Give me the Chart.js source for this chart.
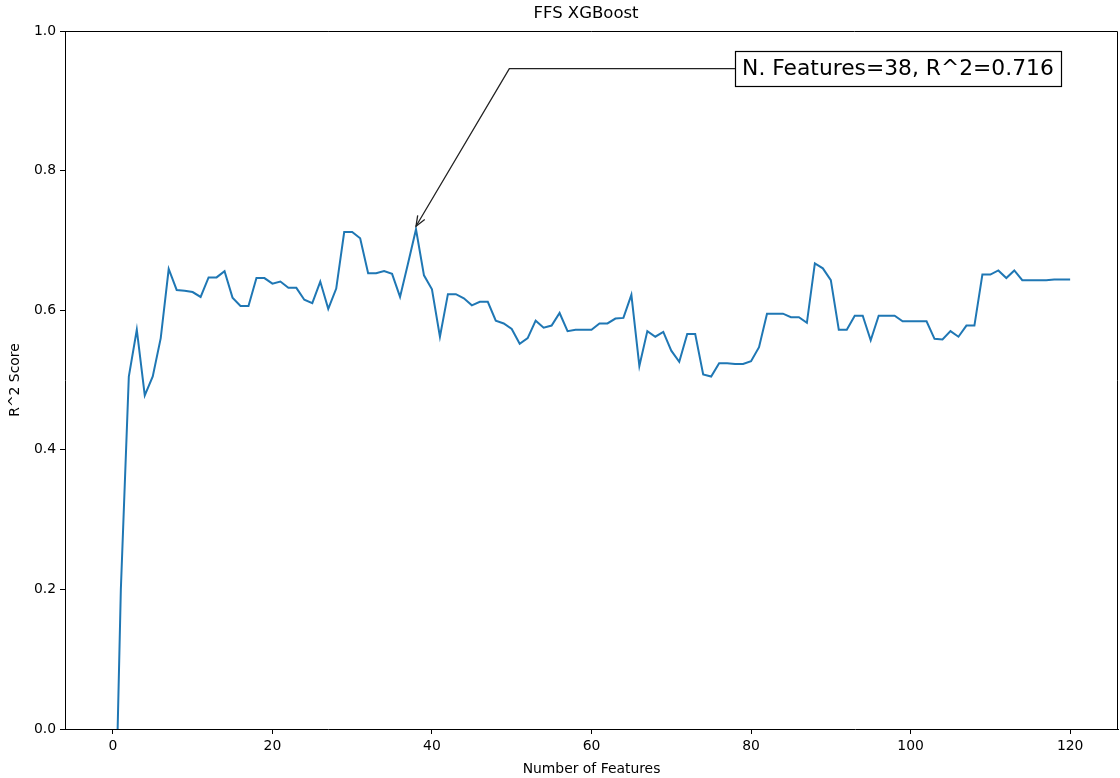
<!DOCTYPE html>
<html lang="en">
<head>
    <meta charset="UTF-8">
    <title>FFS XGBoost</title>
    <script src="https://cdn.jsdelivr.net/npm/chart.js"></script>
    <style>
        body {
            margin: 0;
            background: #ffffff;
        }
        .chart-box {
            width: 1120px;
            height: 778px;
        }
    </style>
</head>
<body>
<div class="chart-box">
    <canvas id="ffsChart" width="1120" height="778"></canvas>
</div>

<script>
    // number of features (0..120) and the R^2
    const nFeatures = Array.from({ length: 121 }, (_, i) => i);
    const r2Scores = [
        -0.30, 0.20, 0.505, 0.572, 0.478, 0.505, 0.56, 0.659, 0.629, 0.628,
        0.626, 0.619, 0.647, 0.647, 0.656, 0.618, 0.606, 0.606, 0.646, 0.646,
        0.638, 0.641, 0.632, 0.632, 0.615, 0.610, 0.641, 0.602, 0.631, 0.712,
        0.712, 0.703, 0.653, 0.653, 0.656, 0.652, 0.619, 0.667, 0.716, 0.650,
        0.630, 0.562, 0.623, 0.623, 0.617, 0.607, 0.612, 0.612, 0.585, 0.581,
        0.573, 0.552, 0.560, 0.585, 0.575, 0.578, 0.596, 0.570, 0.572, 0.572,
        0.572, 0.581, 0.581, 0.588, 0.589, 0.622, 0.520, 0.570, 0.562, 0.569,
        0.542, 0.526, 0.566, 0.566, 0.508, 0.505, 0.524, 0.524, 0.523, 0.523,
        0.527, 0.547, 0.595, 0.595, 0.595, 0.590, 0.590, 0.582, 0.667, 0.660,
        0.643, 0.572, 0.572, 0.592, 0.592, 0.557, 0.592, 0.592, 0.592, 0.584,
        0.584, 0.584, 0.584, 0.559, 0.558, 0.570, 0.562, 0.578, 0.578, 0.651,
        0.651, 0.657, 0.646, 0.657, 0.643, 0.643, 0.643, 0.643, 0.644, 0.644,
        0.644
    ];
    const xTicks = [0, 20, 40, 60, 80, 100, 120];
    const yTicks = [0.0, 0.2, 0.4, 0.6, 0.8, 1.0];

    const bestN = 38;
    const bestR2 = 0.716;
    const annotLabel = 'N. Features=' + bestN + ', R^2=' + bestR2;

    const FONT = '"DejaVu Sans", sans-serif';

    // titles, frame and the annotation arrow (matplotlib style)
    const decorPlugin = {
        id: 'decor',
        afterDraw(chart) {
            const ctx = chart.ctx;
            const area = chart.chartArea;
            const xs = chart.scales.x;
            const ys = chart.scales.y;
            ctx.save();

            // frame top/right
            ctx.strokeStyle = '#000';
            ctx.lineWidth = 1;
            ctx.beginPath();
            ctx.moveTo(area.left, Math.round(area.top) + 0.5);
            ctx.lineTo(Math.round(area.right) - 0.5, Math.round(area.top) + 0.5);
            ctx.lineTo(Math.round(area.right) - 0.5, area.bottom);
            ctx.stroke();

            // title
            ctx.fillStyle = '#000';
            ctx.font = '16.5px ' + FONT;
            ctx.textAlign = 'center';
            ctx.textBaseline = 'middle';
            ctx.fillText('FFS XGBoost', 586, 14);

            // axis labels
            ctx.font = '13.9px ' + FONT;
            ctx.fillText('Number of Features', (area.left + area.right) / 2, 769);
            ctx.save();
            ctx.translate(15, (area.top + area.bottom) / 2);
            ctx.rotate(-Math.PI / 2);
            ctx.fillText('R^2 Score', 0, 0);
            ctx.restore();

            // annotation
            const tipX = xs.getPixelForValue(bestN);
            const tipY = ys.getPixelForValue(bestR2) - 3;
            const boxLeft = xs.getPixelForValue(78);
            const boxMidY = ys.getPixelForValue(0.946);
            const cornerX = xs.getPixelForValue(49.7);

            ctx.font = '21.8px ' + FONT;
            const tw = ctx.measureText(annotLabel).width;
            const boxW = tw + 14;
            const boxH = 35;
            ctx.fillStyle = '#fff';
            ctx.fillRect(boxLeft, boxMidY - boxH / 2, boxW, boxH);
            ctx.strokeStyle = '#000';
            ctx.lineWidth = 1.2;
            ctx.strokeRect(Math.round(boxLeft) + 0.5, Math.round(boxMidY - boxH / 2) + 0.5, Math.round(boxW), boxH);
            ctx.fillStyle = '#000';
            ctx.textAlign = 'left';
            ctx.textBaseline = 'middle';
            ctx.fillText(annotLabel, boxLeft + 7, boxMidY + 1);

            ctx.strokeStyle = '#222';
            ctx.lineWidth = 1.3;
            ctx.beginPath();
            ctx.moveTo(boxLeft, boxMidY);
            ctx.lineTo(cornerX, boxMidY);
            ctx.lineTo(tipX, tipY);
            ctx.stroke();

            // open arrow head
            const ang = Math.atan2(tipY - boxMidY, tipX - cornerX);
            const headLen = 11;
            const spread = 0.38;
            ctx.beginPath();
            ctx.moveTo(tipX - headLen * Math.cos(ang - spread), tipY - headLen * Math.sin(ang - spread));
            ctx.lineTo(tipX, tipY);
            ctx.lineTo(tipX - headLen * Math.cos(ang + spread), tipY - headLen * Math.sin(ang + spread));
            ctx.stroke();

            ctx.restore();
        }
    };

    const ctx = document.getElementById('ffsChart').getContext('2d');
    new Chart(ctx, {
        type: 'line',
        data: {
            datasets: [{
                label: 'R^2 Score',
                data: nFeatures.map((n, i) => ({ x: n, y: r2Scores[i] })),
                borderColor: '#1f77b4',
                borderWidth: 2,
                pointRadius: 0,
                tension: 0,
                fill: false
            }]
        },
        options: {
            responsive: false,
            animation: false,
            devicePixelRatio: 1,
            layout: {
                padding: { left: 0, top: 31, right: 2, bottom: 0 }
            },
            plugins: {
                legend: { display: false },
                title: { display: false },
                tooltip: { enabled: false }
            },
            scales: {
                x: {
                    type: 'linear',
                    min: -6,
                    max: 126,
                    afterBuildTicks: (scale) => { scale.ticks = xTicks.map(v => ({ value: v })); },
                    afterFit: (scale) => { scale.height = 49; },
                    grid: { drawOnChartArea: false, color: '#000', tickLength: 5 },
                    border: { display: true, color: '#000', width: 1 },
                    ticks: {
                        color: '#000',
                        padding: 4,
                        maxRotation: 0,
                        font: { family: FONT, size: 13.9 },
                        callback: (v) => String(v)
                    }
                },
                y: {
                    min: 0,
                    max: 1,
                    afterBuildTicks: (scale) => { scale.ticks = yTicks.map(v => ({ value: v })); },
                    afterFit: (scale) => { scale.width = 65; },
                    grid: { drawOnChartArea: false, color: '#000', tickLength: 5 },
                    border: { display: true, color: '#000', width: 1 },
                    ticks: {
                        color: '#000',
                        padding: 4,
                        font: { family: FONT, size: 13.9 },
                        callback: (v) => Number(v).toFixed(1)
                    }
                }
            }
        },
        plugins: [decorPlugin]
    });
</script>
</body>
</html>
